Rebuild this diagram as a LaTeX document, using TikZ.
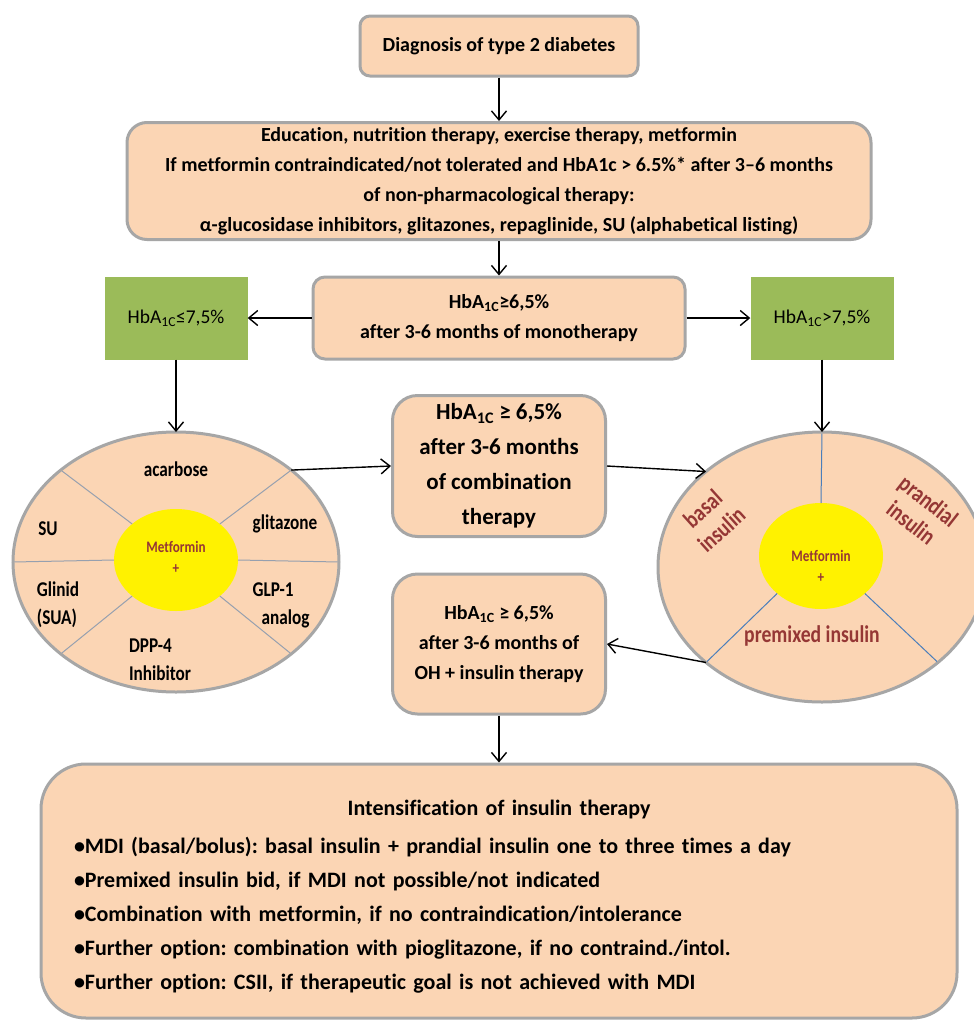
\documentclass[tikz,border=0pt]{standalone}
\usepackage{fontspec}
\setmainfont{Carlito}[Ligatures=NoCommon]
\newfontfamily\narrowfont{Carlito}[FakeStretch=0.82, Ligatures=NoCommon]
\usetikzlibrary{arrows.meta,shapes.geometric}
\definecolor{peach}{RGB}{251,213,180}
\definecolor{rimgray}{RGB}{166,166,166}
\definecolor{leaf}{RGB}{155,187,89}
\definecolor{wine}{RGB}{149,55,53}
\definecolor{spoke}{RGB}{74,126,187}
\definecolor{greyspoke}{RGB}{150,160,175}
\frenchspacing
\begin{document}
\begin{tikzpicture}[x=1pt,y=-1pt,
        box/.style={draw=rimgray, line width=3pt, fill=peach, rounded corners=#1, align=center, inner sep=0pt},
        green/.style={fill=leaf, minimum width=143pt, minimum height=83pt, inner sep=0pt, font=\fontsize{19.5}{26}\selectfont},
        rim/.style={ellipse, draw=rimgray, line width=3pt, fill=peach, inner sep=0pt, outer sep=0pt},
        core/.style={ellipse, fill=yellow, inner sep=0pt, outer sep=0pt},
        oraltext/.style={font=\narrowfont\bfseries\fontsize{21}{28}\selectfont},
        instext/.style={text=wine, align=center, font=\narrowfont\bfseries\fontsize{24}{28}\selectfont},
        mettext/.style={text=wine, align=center, font=\narrowfont\bfseries\fontsize{16}{21}\selectfont},
        arr/.style={-{Straight Barb[length=9pt,width=15pt]}, line width=1.4pt}]
        \useasboundingbox (0,0) rectangle (974,1021);
        \fill [white] (0,0) rectangle (974,1021);
        \node [box=10pt, minimum width=278pt, minimum height=60pt, font=\bfseries\fontsize{20}{24}\selectfont] (diag) at (499,46) {Diagnosis of type 2 diabetes};
        \node [box=20pt, minimum width=744pt, minimum height=117pt, font=\bfseries\fontsize{20}{30}\selectfont] (edu) at (499,181) {Education, nutrition therapy, exercise therapy, metformin\\If metformin contraindicated/not tolerated and HbA1c > 6.5\%* after 3–6 months\\of non-pharmacological therapy:\\α-glucosidase inhibitors, glitazones, repaglinide, SU (alphabetical listing)};
        \node [box=12pt, minimum width=372pt, minimum height=82pt, font=\bfseries\fontsize{20}{30}\selectfont] (mono) at (499,318) {HbA\textsubscript{1C}≥6,5\%\\after 3-6 months of monotherapy};
        \node [green] (lowL) at (176,318) {HbA\textsubscript{1C}≤7,5\%};
        \node [green] (highR) at (822,318) {HbA\textsubscript{1C}>7,5\%};
        \node [box=25pt, minimum width=213pt, minimum height=141pt, font=\bfseries\fontsize{23}{35}\selectfont] (comb) at (499,466) {HbA\textsubscript{1C} ≥ 6,5\%\\after 3-6 months\\of combination\\therapy};
        \node [box=25pt, minimum width=213pt, minimum height=140pt, font=\bfseries\fontsize{20}{30}\selectfont] (oh) at (499,644) {HbA\textsubscript{1C} ≥ 6,5\%\\after 3-6 months of\\OH + insulin therapy};
        \node [box=45pt, minimum width=916pt, minimum height=254pt, text width=850pt, align=left, font=\bfseries\fontsize{22}{34}\selectfont] (intens) at (499,891) {\rule{0pt}{26pt}\makebox[850pt][c]{Intensification of insulin therapy}\\[4pt]•MDI (basal/bolus): basal insulin + prandial insulin one to three times a day\\•Premixed insulin bid, if MDI not possible/not indicated\\•Combination with metformin, if no contraindication/intolerance\\•Further option: combination with pioglitazone, if no contraind./intol.\\•Further option: CSII, if therapeutic goal is not achieved with MDI};
        \node [rim, minimum width=326pt, minimum height=260pt] (oral) at (176,562) {};
        \node [core, minimum width=124pt, minimum height=102pt] (oralcore) at (176,560) {};
        \node [rim, minimum width=328pt, minimum height=270pt] (ins) at (822,567) {};
        \node [core, minimum width=124pt, minimum height=106pt] (inscore) at (821,556) {};
        \foreach \a in {north west,north east,west,east,south west,south east}
            \draw [greyspoke, line width=1pt, shorten <=1.5pt] (oral.\a) -- (oralcore.\a);
        \foreach \a in {north,south west,south east}
            \draw [spoke, line width=1pt, shorten <=1.5pt] (ins.\a) -- (inscore.\a);
        \node [oraltext] (acarb) at (176,469) {acarbose};
        \node [oraltext] (su) at (48,529) {SU};
        \node [oraltext] (glit) at (285,524) {glitazone};
        \node [oraltext, align=left] (glin) at (58,605) {Glinid\\(SUA)};
        \node [oraltext, align=left] (glp) at (281,605) {GLP-1\\\hspace*{9pt}analog};
        \node [oraltext, align=left] (dpp) at (160,660) {DPP-4\\Inhibitor};
        \node [mettext] (met1) at (176,557) {Metformin\\+};
        \node [mettext] (met2) at (821,566) {Metformin\\+};
        \node [instext, rotate=42] (basal) at (712,519) {basal\\insulin};
        \node [instext, rotate=-38] (prand) at (920,512) {prandial\\insulin};
        \node [instext] (premix) at (812,636) {premixed insulin};
        \draw [arr] (diag) -- (edu);
        \draw [arr] (edu) -- (mono);
        \draw [arr] (mono) -- (lowL);
        \draw [arr] (mono) -- (highR);
        \draw [arr] (lowL) -- (oral);
        \draw [arr] (highR) -- (ins);
        \draw [arr] (oral.north east) -- (comb.west);
        \draw [arr] (comb.east) -- (ins.north west);
        \draw [arr] (ins.south west) -- (oh.east);
        \draw [arr] (oh) -- (intens);
    \end{tikzpicture}
\end{document}
